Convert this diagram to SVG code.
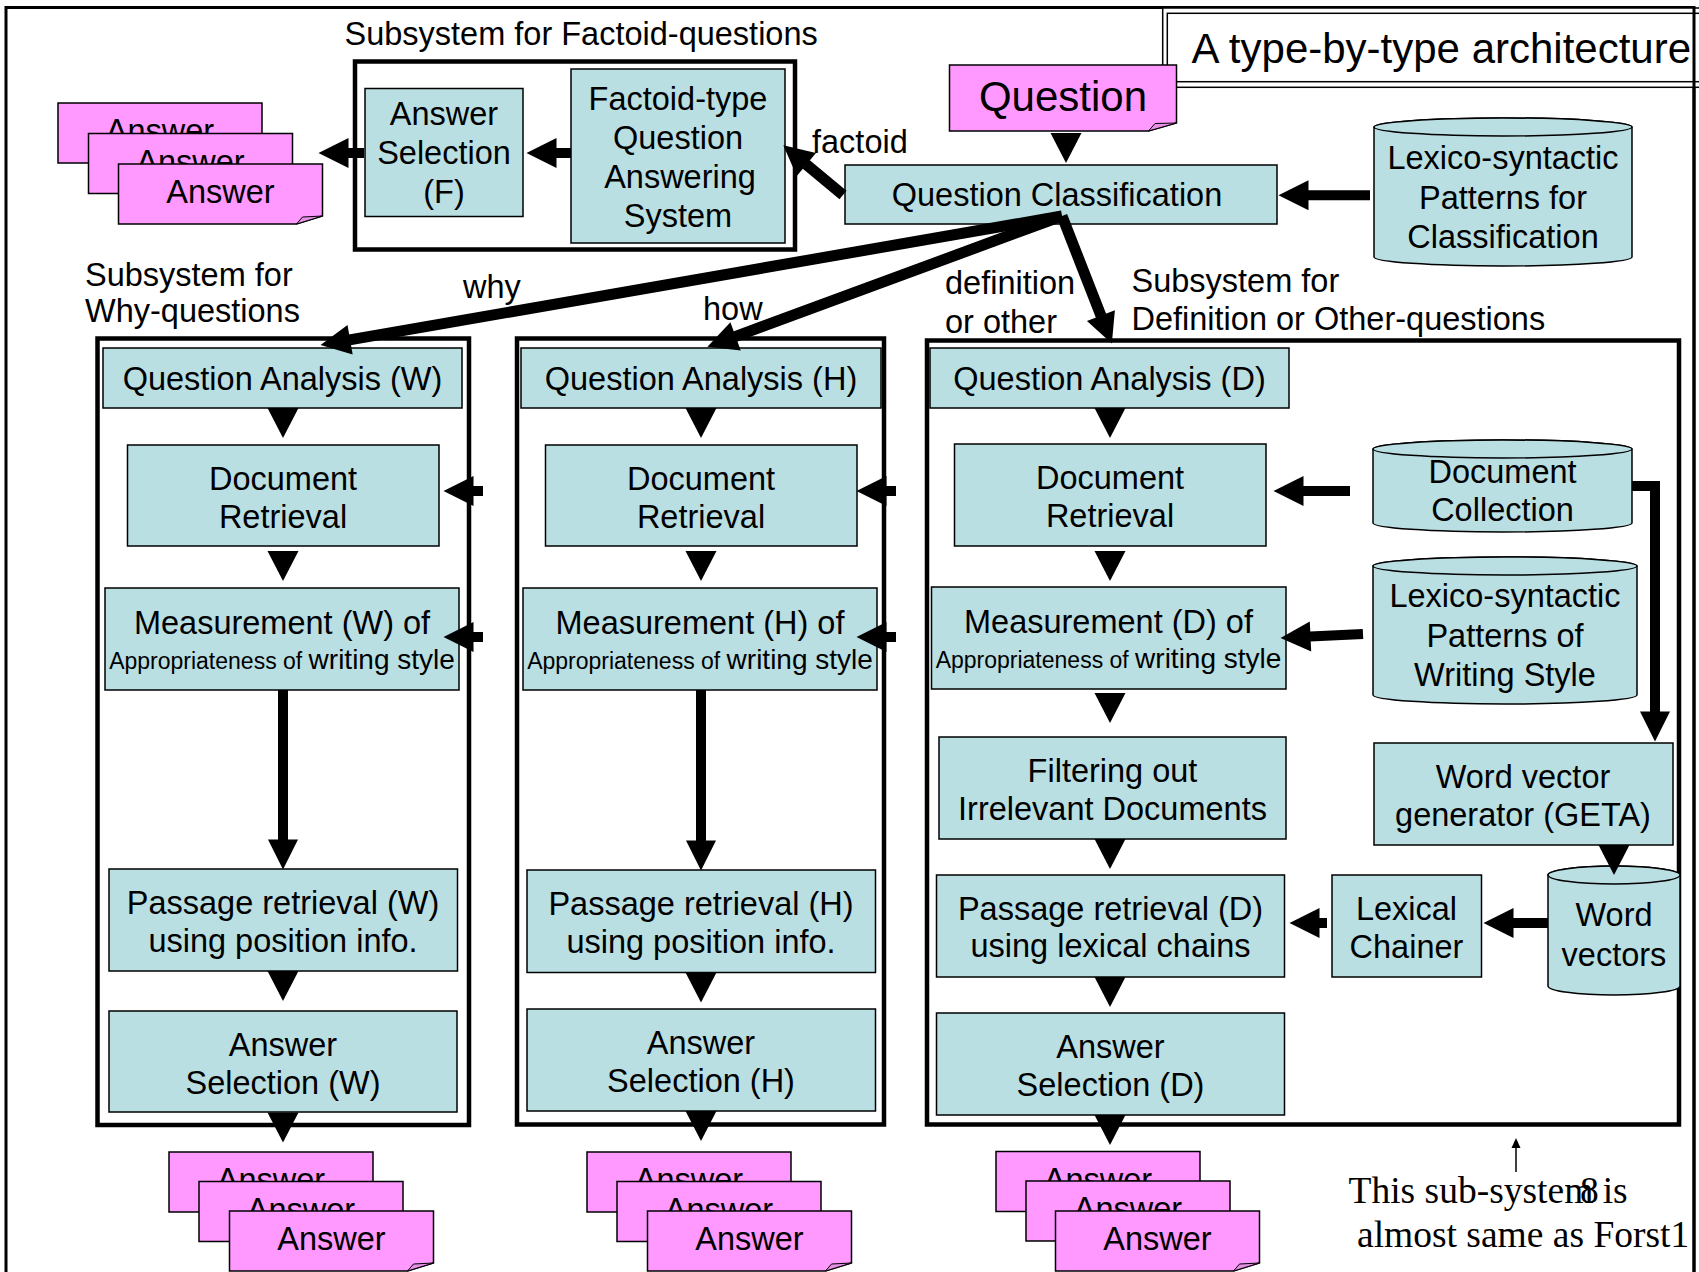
<svg xmlns="http://www.w3.org/2000/svg" xmlns:xlink="http://www.w3.org/1999/xlink" width="1699" height="1272" viewBox="0 0 1699 1272">
<style>
.box{fill:#B9DFE3;stroke:#000;stroke-width:1.5}
.note{fill:#FF99FF;stroke:#000;stroke-width:1.5}
.fold{fill:#E58FE5;stroke:#000;stroke-width:1}
.frame{fill:none;stroke:#000;stroke-width:4.5}
.t{font-family:"Liberation Sans",Arial,sans-serif;font-size:32.5px;fill:#000}
.c{text-anchor:middle}
.big{font-size:42px}
.sm{font-size:23px}
.md{font-size:28px}
.serif{font-family:"Liberation Serif","Times New Roman",serif;font-size:37.5px;fill:#000}
.ln{stroke:#000;stroke-width:10;fill:none;marker-end:url(#ah)}
.dg{stroke:#000;stroke-width:11;fill:none;marker-end:url(#ah)}
</style>
<defs>
<marker id="ah" markerUnits="userSpaceOnUse" markerWidth="30" markerHeight="30" viewBox="0 0 30 30" refX="0.5" refY="15" orient="auto" overflow="visible"><path d="M0,0 L30,15 L0,30 Z" fill="#000"/></marker>
<path id="tri" d="M-15.5,0 H15.5 L0,30 Z" fill="#000"/>
</defs>
<rect width="1699" height="1272" fill="#fff"/>
<rect x="6" y="7.5" width="1688" height="1300" fill="none" stroke="#000" stroke-width="3"/>

<g id="title">
<rect x="1162.7" y="8" width="540" height="79.3" fill="#fff" stroke="#000" stroke-width="1.5"/>
<rect x="1167.3" y="13.3" width="540" height="68.4" fill="none" stroke="#000" stroke-width="1.5"/>
<line x1="1694" y1="8" x2="1694" y2="1272" stroke="#000" stroke-width="3"/>
<text class="t big" x="1191.5" y="63.3">A type-by-type architecture</text>
</g>

<g id="factoid-subsystem">
<text class="t" x="344.5" y="45">Subsystem for Factoid-questions</text>
<rect class="frame" x="355" y="61.5" width="440" height="188" stroke-width="5"/>
</g>
<g id="answer-selection-f">
<rect class="box" x="365" y="88.5" width="158" height="128"/>
<text class="t c" x="444" y="125">Answer</text>
<text class="t c" x="444" y="164">Selection</text>
<text class="t c" x="444" y="203">(F)</text>
</g>
<g id="factoid-qa-system">
<rect class="box" x="571" y="69" width="214" height="174"/>
<text class="t c" x="678" y="109.5">Factoid-type</text>
<text class="t c" x="678" y="148.8">Question</text>
<text class="t c" x="680" y="188">Answering</text>
<text class="t c" x="678" y="227.2">System</text>
</g>
<g id="answers-f">
<path class="note" d="M58 103 h204 v52 l-26 8 H58 Z"/><polygon class="fold" points="236,163 242,156 262,155"/><text class="t c" x="160" y="142">Answer</text>
<path class="note" d="M88.5 133.5 h204 v52 l-26 8 H88.5 Z"/><polygon class="fold" points="266.5,193.5 272.5,186.5 292.5,185.5"/><text class="t c" x="190.5" y="172.5">Answer</text>
<path class="note" d="M118.5 164 h204 v52 l-26 8 H118.5 Z"/><polygon class="fold" points="296.5,224 302.5,217 322.5,216"/><text class="t c" x="220.5" y="203">Answer</text>
</g>

<g id="question">
<path class="note" d="M949.5 65 h227 v58 l-28 8 H949.5 Z"/><polygon class="fold" points="1148.5,131 1155,123.5 1176.5,123"/>
<text class="t c big" x="1063" y="111">Question</text>
</g>
<g id="question-classification">
<rect class="box" x="845" y="165" width="432" height="59"/>
<text class="t c" x="1057" y="206">Question Classification</text>
</g>
<g id="patterns-classification">
<path class="box" d="M1374 127 V257 A129 9 0 0 0 1632 257 V127 A129 9 0 0 0 1374 127 Z"/>
<ellipse class="box" cx="1503" cy="127" rx="129" ry="9"/>
<text class="t c" x="1503" y="169">Lexico-syntactic</text>
<text class="t c" x="1503" y="208.5">Patterns for</text>
<text class="t c" x="1503" y="248">Classification</text>
</g>

<g id="labels">
<text class="t" x="812" y="152.5">factoid</text>
<text class="t" x="85" y="286">Subsystem for</text>
<text class="t" x="85" y="322">Why-questions</text>
<text class="t" x="463" y="298">why</text>
<text class="t" x="703" y="320">how</text>
<text class="t" x="945" y="294">definition</text>
<text class="t" x="945" y="332.5">or other</text>
<text class="t" x="1131.5" y="291.5">Subsystem for</text>
<text class="t" x="1131.5" y="330">Definition or Other-questions</text>
</g>

<g id="why-subsystem">
<rect class="frame" x="97.5" y="338.5" width="371.5" height="786.5"/>
</g>
<g id="how-subsystem">
<rect class="frame" x="517" y="338.5" width="367" height="786"/>
</g>
<g id="definition-subsystem">
<rect class="frame" x="927" y="340.5" width="752" height="784"/>
</g>

<g id="qa-w"><rect class="box" x="103" y="348" width="359" height="60"/><text class="t c" x="282.5" y="389.5">Question Analysis (W)</text></g>
<g id="dr-w"><rect class="box" x="127.5" y="445" width="311.5" height="101"/><text class="t c" x="283" y="490">Document</text><text class="t c" x="283" y="527.5">Retrieval</text></g>
<g id="meas-w"><rect class="box" x="105" y="588" width="354" height="102"/><text class="t c" x="282" y="634">Measurement (W) of</text><text class="t c" x="282" y="669"><tspan class="sm">Appropriateness of </tspan><tspan class="md">writing style</tspan></text></g>
<g id="pr-w"><rect class="box" x="109" y="869" width="348.5" height="102"/><text class="t c" x="283" y="914">Passage retrieval (W)</text><text class="t c" x="283" y="951.5">using position info.</text></g>
<g id="as-w"><rect class="box" x="109" y="1011" width="348" height="101"/><text class="t c" x="283" y="1056">Answer</text><text class="t c" x="283" y="1093.5">Selection (W)</text></g>

<g id="qa-h"><rect class="box" x="521" y="348" width="360" height="60"/><text class="t c" x="701" y="389.5">Question Analysis (H)</text></g>
<g id="dr-h"><rect class="box" x="545.5" y="445" width="311.5" height="101"/><text class="t c" x="701" y="490">Document</text><text class="t c" x="701" y="527.5">Retrieval</text></g>
<g id="meas-h"><rect class="box" x="523" y="588" width="354" height="102"/><text class="t c" x="700" y="634">Measurement (H) of</text><text class="t c" x="700" y="669"><tspan class="sm">Appropriateness of </tspan><tspan class="md">writing style</tspan></text></g>
<g id="pr-h"><rect class="box" x="527" y="870" width="348.5" height="102.5"/><text class="t c" x="701" y="915">Passage retrieval (H)</text><text class="t c" x="701" y="952.5">using position info.</text></g>
<g id="as-h"><rect class="box" x="527" y="1009" width="348.5" height="102"/><text class="t c" x="701" y="1054">Answer</text><text class="t c" x="701" y="1091.5">Selection (H)</text></g>

<g id="qa-d"><rect class="box" x="930" y="348" width="359" height="60"/><text class="t c" x="1109.5" y="389.5">Question Analysis (D)</text></g>
<g id="dr-d"><rect class="box" x="954.5" y="444" width="311.5" height="102"/><text class="t c" x="1110" y="489">Document</text><text class="t c" x="1110" y="526.5">Retrieval</text></g>
<g id="meas-d"><rect class="box" x="931.5" y="587" width="354.5" height="102"/><text class="t c" x="1108.5" y="633">Measurement (D) of</text><text class="t c" x="1108.5" y="668"><tspan class="sm">Appropriateness of </tspan><tspan class="md">writing style</tspan></text></g>
<g id="filter-d"><rect class="box" x="939" y="737" width="347" height="102"/><text class="t c" x="1112.5" y="782">Filtering out</text><text class="t c" x="1112.5" y="819.5">Irrelevant Documents</text></g>
<g id="pr-d"><rect class="box" x="936.5" y="875" width="348" height="102"/><text class="t c" x="1110.5" y="919.5">Passage retrieval (D)</text><text class="t c" x="1110.5" y="957">using lexical chains</text></g>
<g id="as-d"><rect class="box" x="936.5" y="1013" width="348" height="102"/><text class="t c" x="1110.5" y="1057.5">Answer</text><text class="t c" x="1110.5" y="1095.5">Selection (D)</text></g>

<g id="document-collection">
<path class="box" d="M1373 449 V523 A129.5 9 0 0 0 1632 523 V449 A129.5 9 0 0 0 1373 449 Z"/>
<ellipse class="box" cx="1502.5" cy="449" rx="129.5" ry="9"/>
<text class="t c" x="1502.5" y="482.5">Document</text>
<text class="t c" x="1502.5" y="521">Collection</text>
</g>
<g id="patterns-writing-style">
<path class="box" d="M1373 566 V695 A132 9 0 0 0 1637 695 V566 A132 9 0 0 0 1373 566 Z"/>
<ellipse class="box" cx="1505" cy="566" rx="132" ry="9"/>
<text class="t c" x="1505" y="607">Lexico-syntactic</text>
<text class="t c" x="1505" y="646.5">Patterns of</text>
<text class="t c" x="1505" y="686">Writing Style</text>
</g>
<g id="word-vector-generator"><rect class="box" x="1374" y="743" width="299" height="102"/><text class="t c" x="1523" y="788">Word vector</text><text class="t c" x="1523" y="826">generator (GETA)</text></g>
<g id="lexical-chainer"><rect class="box" x="1332" y="875" width="149.5" height="102"/><text class="t c" x="1406.5" y="919.5">Lexical</text><text class="t c" x="1406.5" y="958">Chainer</text></g>
<g id="word-vectors">
<path class="box" d="M1548 875 V986 A66 9 0 0 0 1680 986 V875 A66 9 0 0 0 1548 875 Z"/>
<ellipse class="box" cx="1614" cy="875" rx="66" ry="9"/>
<text class="t c" x="1614" y="926">Word</text>
<text class="t c" x="1614" y="966">vectors</text>
</g>

<g id="answers-w">
<path class="note" d="M169 1152 h204 v52 l-26 8 H169 Z"/><polygon class="fold" points="347,1212 353,1205 373,1204"/><text class="t c" x="271" y="1191">Answer</text>
<path class="note" d="M199 1181.5 h204 v52 l-26 8 H199 Z"/><polygon class="fold" points="377,1241.5 383,1234.5 403,1233.5"/><text class="t c" x="301" y="1220.5">Answer</text>
<path class="note" d="M229.5 1211 h204 v52 l-26 8 H229.5 Z"/><polygon class="fold" points="407.5,1271 413.5,1264 433.5,1263"/><text class="t c" x="331.5" y="1250">Answer</text>
</g>
<g id="answers-h">
<path class="note" d="M587 1152 h204 v52 l-26 8 H587 Z"/><polygon class="fold" points="765,1212 771,1205 791,1204"/><text class="t c" x="689" y="1191">Answer</text>
<path class="note" d="M617 1181.5 h204 v52 l-26 8 H617 Z"/><polygon class="fold" points="795,1241.5 801,1234.5 821,1233.5"/><text class="t c" x="719" y="1220.5">Answer</text>
<path class="note" d="M647.5 1211 h204 v52 l-26 8 H647.5 Z"/><polygon class="fold" points="825.5,1271 831.5,1264 851.5,1263"/><text class="t c" x="749.5" y="1250">Answer</text>
</g>
<g id="answers-d">
<path class="note" d="M996 1151.5 h204 v52 l-26 8 H996 Z"/><polygon class="fold" points="1174,1211.5 1180,1204.5 1200,1203.5"/><text class="t c" x="1098" y="1190.5">Answer</text>
<path class="note" d="M1026 1181 h204 v52 l-26 8 H1026 Z"/><polygon class="fold" points="1204,1241 1210,1234 1230,1233"/><text class="t c" x="1128" y="1220">Answer</text>
<path class="note" d="M1055.5 1211 h204 v52 l-26 8 H1055.5 Z"/><polygon class="fold" points="1233.5,1271 1239.5,1264 1259.5,1263"/><text class="t c" x="1157.5" y="1250">Answer</text>
</g>

<g id="connectors">
<use xlink:href="#tri" x="1066" y="133"/>
<line class="ln" x1="1370" y1="195.3" x2="1308" y2="195.3"/>
<line class="dg" x1="843" y1="195" x2="806" y2="164.2"/>
<line class="ln" x1="571" y1="153" x2="556" y2="153"/>
<line class="ln" x1="364" y1="153" x2="348" y2="153"/>
<line class="dg" x1="1062" y1="216" x2="349.6" y2="339.9"/>
<line class="dg" x1="1062" y1="216" x2="735.1" y2="336.6"/>
<line class="dg" x1="1062" y1="216" x2="1101.1" y2="316.1"/>

<use xlink:href="#tri" x="283" y="408"/>
<use xlink:href="#tri" x="283" y="551"/>
<line class="ln" x1="283" y1="690" x2="283" y2="840"/>
<use xlink:href="#tri" x="283" y="971"/>
<use xlink:href="#tri" x="283" y="1112.5"/>
<line class="ln" x1="483" y1="491" x2="473" y2="491"/>
<line class="ln" x1="483" y1="637" x2="473" y2="637"/>

<use xlink:href="#tri" x="701" y="408"/>
<use xlink:href="#tri" x="701" y="551"/>
<line class="ln" x1="701" y1="690" x2="701" y2="841"/>
<use xlink:href="#tri" x="701" y="972.5"/>
<use xlink:href="#tri" x="701" y="1111"/>
<line class="ln" x1="896" y1="491" x2="886" y2="491"/>
<line class="ln" x1="896" y1="637" x2="886" y2="637"/>

<use xlink:href="#tri" x="1110" y="408"/>
<use xlink:href="#tri" x="1110" y="551"/>
<use xlink:href="#tri" x="1110" y="693"/>
<use xlink:href="#tri" x="1110" y="839"/>
<use xlink:href="#tri" x="1110" y="977"/>
<use xlink:href="#tri" x="1110" y="1115"/>
<line class="ln" x1="1350" y1="491" x2="1303" y2="491"/>
<line class="ln" x1="1363" y1="634" x2="1310" y2="636.5"/>
<path class="ln" d="M1632 486 H1655 V712"/>
<use xlink:href="#tri" x="1614" y="845"/>
<line class="ln" x1="1548" y1="923" x2="1513" y2="923"/>
<line class="ln" x1="1327" y1="923" x2="1319" y2="923"/>

<line x1="1516" y1="1172" x2="1516" y2="1146" stroke="#000" stroke-width="1.5"/>
<polygon points="1516,1138 1511.5,1148 1520.5,1148" fill="#000"/>
</g>

<g id="note-text">
<text class="serif" x="1348.5" y="1203">This sub-system is</text>
<text class="serif" x="1580" y="1203">8</text>
<text class="serif" x="1357" y="1247">almost same as Forst1</text>
</g>
</svg>
